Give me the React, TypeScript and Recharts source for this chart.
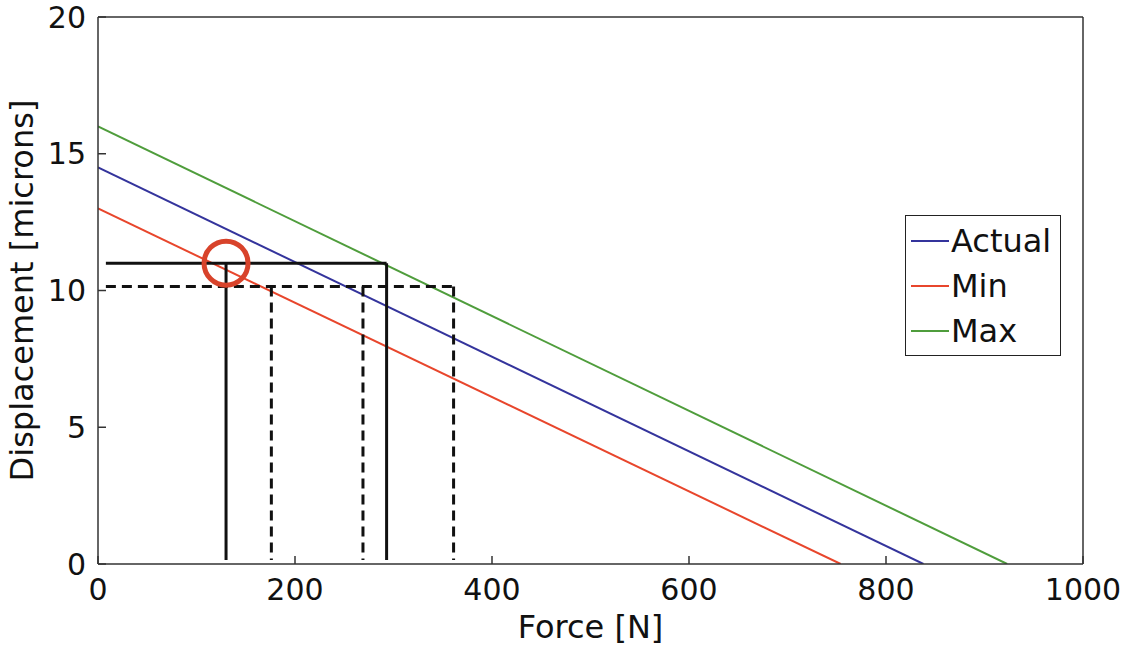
import { LineChart, Line, XAxis, YAxis, Legend, ReferenceLine, ReferenceDot } from 'recharts';

// series: end points of each straight line (force in N, displacement in microns)
const actualForce = [0, 838];
const actualDisp = [14.5, 0];
const minForce = [0, 754];
const minDisp = [13, 0];
const maxForce = [0, 923];
const maxDisp = [16, 0];

const xTicks = [0, 200, 400, 600, 800, 1000];
const yTicks = [0, 5, 10, 15, 20];

// guide lines
const guideStart = 8;
const guideBottom = 0.15;
const solidLevel = 11;
const solidForces = [130, 293];
const dashedLevel = 10.15;
const dashedForces = [176, 269, 361];
const markForce = 130;
const markDisp = 11;

const toPoints = (f: number[], d: number[]) => f.map((v, i) => ({ force: v, disp: d[i] }));

const series = [
  { name: 'Actual', color: '#34349c', data: toPoints(actualForce, actualDisp) },
  { name: 'Min', color: '#e8462c', data: toPoints(minForce, minDisp) },
  { name: 'Max', color: '#4f9d3c', data: toPoints(maxForce, maxDisp) },
];

const font = 'DejaVu Sans, sans-serif';
const axisColor = '#333';
const tickLineStyle = { stroke: axisColor, strokeWidth: 1.5 };

// mirrored axes keep their tick lines but show no labels
const noLabel = () => <g />;

function LegendBox() {
  return (
    <div
      style={{
        border: '1.5px solid #222',
        background: '#fff',
        width: 156,
        height: 141,
        boxSizing: 'border-box',
        paddingTop: 2,
        fontFamily: font,
        fontSize: 32,
        color: '#111',
      }}
    >
      {series.map((s) => (
        <div key={s.name} style={{ display: 'flex', alignItems: 'center', height: 45 }}>
          <div style={{ width: 38, height: 2, background: s.color, marginLeft: 5, marginRight: 2 }} />
          <span>{s.name}</span>
        </div>
      ))}
    </div>
  );
}

function YLabel(props: any) {
  const vb = props.viewBox;
  const cx = vb.x + 33;
  const cy = vb.y + vb.height / 2;
  return (
    <text
      x={cx}
      y={cy}
      transform={`rotate(-90 ${cx} ${cy})`}
      textAnchor="middle"
      fontFamily={font}
      fontSize={32}
      fill="#111"
    >
      Displacement [microns]
    </text>
  );
}

export default function App() {
  return (
    <div style={{ position: 'absolute', left: 0, top: 0, background: '#fff' }}>
      <LineChart width={1122} height={650} margin={{ top: 16, right: 38, bottom: 0, left: 0 }}>
        <XAxis
          dataKey="force"
          type="number"
          domain={[0, 1000]}
          ticks={xTicks}
          interval={0}
          height={86}
          stroke={axisColor}
          strokeWidth={1.5}
          tickLine={tickLineStyle}
          tickSize={-8}
          tickMargin={23}
          tick={{ fontFamily: font, fontSize: 30, fill: '#111' }}
          allowDataOverflow
          label={{ value: 'Force [N]', position: 'insideBottom', offset: 12, fontFamily: font, fontSize: 32, fill: '#111' }}
        />
        <XAxis
          xAxisId="top"
          orientation="top"
          type="number"
          domain={[0, 1000]}
          ticks={xTicks}
          interval={0}
          height={1}
          stroke={axisColor}
          strokeWidth={1.5}
          tickLine={tickLineStyle}
          tickSize={-8}
          tick={noLabel}
        />
        <YAxis
          type="number"
          domain={[0, 20]}
          ticks={yTicks}
          interval={0}
          width={98}
          stroke={axisColor}
          strokeWidth={1.5}
          tickLine={tickLineStyle}
          tickSize={-8}
          tickMargin={20}
          tick={{ fontFamily: font, fontSize: 30, fill: '#111' }}
          allowDataOverflow
          label={YLabel}
        />
        <YAxis
          yAxisId="right"
          orientation="right"
          type="number"
          domain={[0, 20]}
          ticks={yTicks}
          interval={0}
          width={1}
          stroke={axisColor}
          strokeWidth={1.5}
          tickLine={tickLineStyle}
          tickSize={-8}
          tick={noLabel}
        />
        <Legend
          layout="vertical"
          align="center"
          verticalAlign="middle"
          wrapperStyle={{ left: 905, top: 215, width: 'auto' }}
          content={<LegendBox />}
        />
        {series.map((s) => (
          <Line
            key={s.name}
            name={s.name}
            data={s.data}
            dataKey="disp"
            stroke={s.color}
            strokeWidth={2}
            dot={false}
            isAnimationActive={false}
          />
        ))}
        <ReferenceLine
          segment={[{ x: guideStart, y: solidLevel }, { x: solidForces[solidForces.length - 1], y: solidLevel }]}
          stroke="#111"
          strokeWidth={3}
        />
        {solidForces.map((f) => (
          <ReferenceLine
            key={'s' + f}
            segment={[{ x: f, y: solidLevel }, { x: f, y: guideBottom }]}
            stroke="#111"
            strokeWidth={3}
          />
        ))}
        <ReferenceLine
          segment={[{ x: guideStart, y: dashedLevel }, { x: dashedForces[dashedForces.length - 1], y: dashedLevel }]}
          stroke="#111"
          strokeWidth={3}
          strokeDasharray="10 6"
        />
        {dashedForces.map((f) => (
          <ReferenceLine
            key={'d' + f}
            segment={[{ x: f, y: dashedLevel }, { x: f, y: guideBottom }]}
            stroke="#111"
            strokeWidth={3}
            strokeDasharray="10 6"
          />
        ))}
        <ReferenceDot x={markForce} y={markDisp} r={22} fill="none" stroke="#d8432b" strokeWidth={5} />
      </LineChart>
    </div>
  );
}
